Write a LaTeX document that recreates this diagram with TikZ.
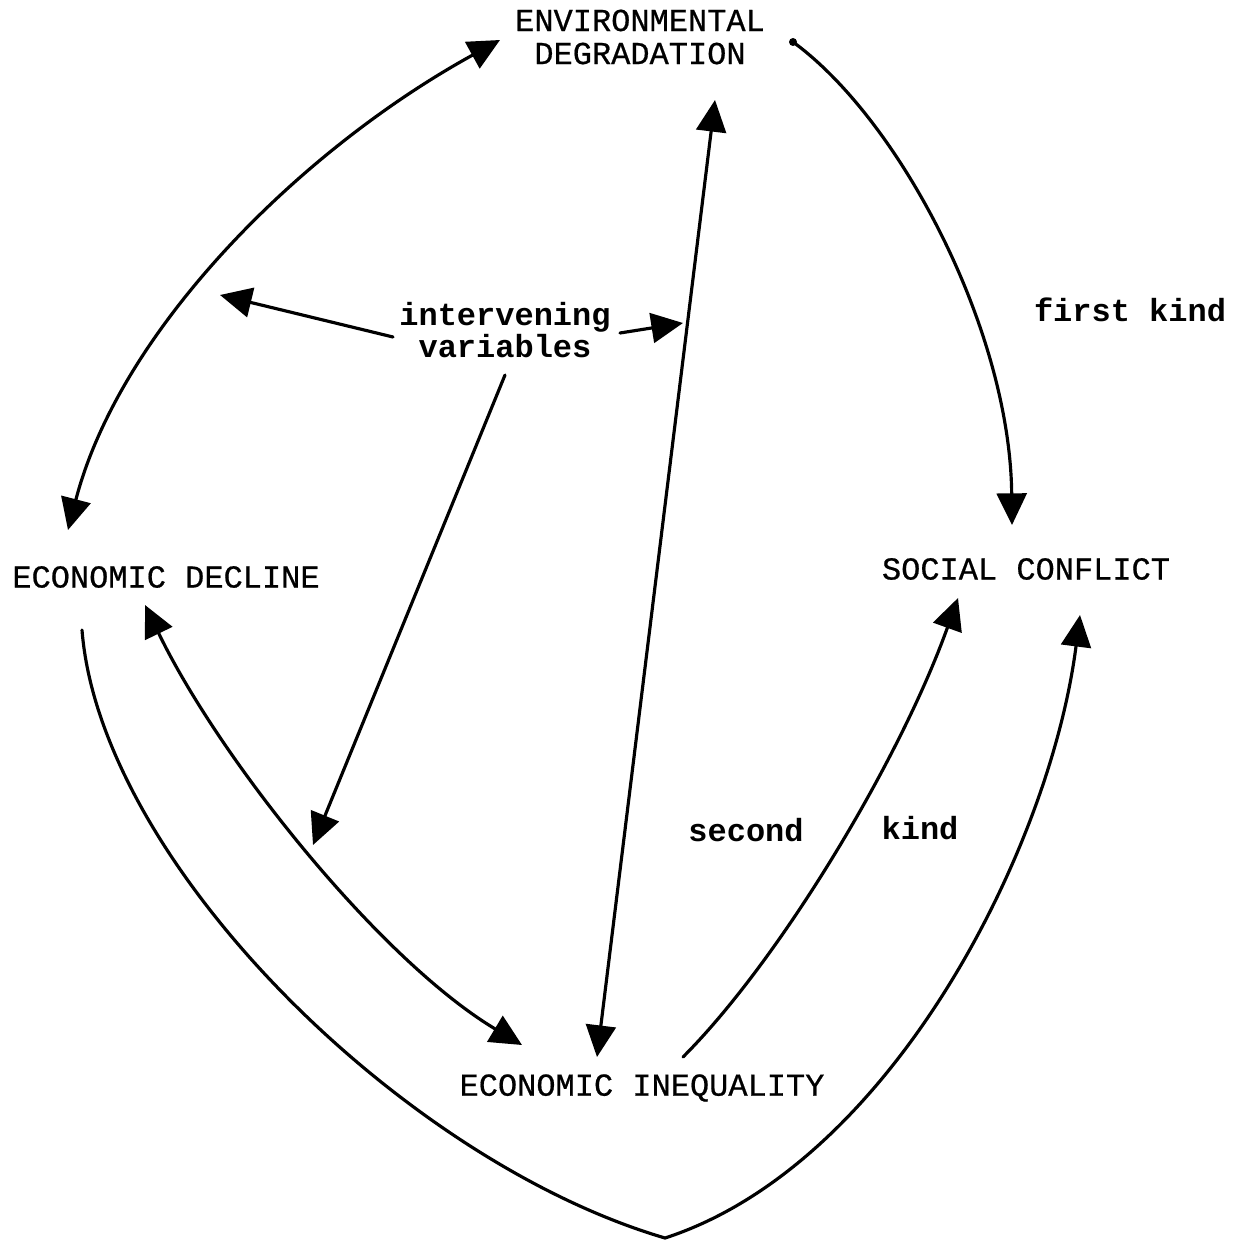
\documentclass[tikz,border=0pt]{standalone}
\usepackage{fontspec}
\setmainfont{Liberation Mono}
\newfontfamily\capsfont{Liberation Mono}[FakeBold=0.6]
\usetikzlibrary{arrows.meta}
\begin{document}
\begin{tikzpicture}[x=0.01cm,y=-0.01cm,
  lbl/.style={inner sep=0pt,align=center,font=\fontsize{9.1}{9.4}\selectfont\capsfont},
  lowlbl/.style={inner sep=0pt,align=center,font=\fontsize{9.1}{9.2}\selectfont\bfseries},
  conn/.style={line width=0.9pt,line cap=round,line join=round},
  tip/.style={-{Triangle[length=9pt,width=8.5pt]}},
  tips/.style={{Triangle[length=9pt,width=8.5pt]}-{Triangle[length=9pt,width=8.5pt]}}]
\useasboundingbox (0,0) rectangle (1235,1246);
% labels
\node[lbl] (env) at (640,37) {ENVIRONMENTAL\\DEGRADATION};
\node[lbl] (dec) at (166,577) {ECONOMIC DECLINE};
\node[lbl] (soc) at (1026,569) {SOCIAL CONFLICT};
\node[lbl] (ineq) at (642,1088) {ECONOMIC INEQUALITY};
\node[lowlbl] (iv) at (505,330) {intervening\\variables};
\node[lowlbl] (first) at (1130,310) {first kind};
\node[lowlbl] (second) at (746,830) {second};
\node[lowlbl] (kind) at (920,828) {kind};
% endpoints
\coordinate (envL) at (500,40);
\coordinate (decT) at (68,530);
\coordinate (envR) at (793,42);
\coordinate (socT) at (1012,525);
\coordinate (envB) at (715,100);
\coordinate (ineqT) at (597,1057);
\coordinate (ivL) at (393,337);
\coordinate (ivLt) at (220,295);
\coordinate (ivR) at (620,333);
\coordinate (ivRt) at (683,323);
\coordinate (ivD) at (505,375);
\coordinate (ivDt) at (313,845);
\coordinate (decB) at (145,605);
\coordinate (ineqL) at (522,1045);
\coordinate (decS) at (82,630);
\coordinate (apex) at (665,1238);
\coordinate (socB) at (1080,615);
\coordinate (ineqR) at (683,1057);
\coordinate (socBL) at (958,598);
% connectors
\draw[conn,tips] (decT) .. controls (120,330) and (300,150) .. (envL);
\draw[conn,tip] (envR) .. controls (900,120) and (1010,330) .. (socT);
\draw[conn,tips] (envB) -- (ineqT);
\draw[conn,tip] (ivL) -- (ivLt);
\draw[conn,tip] (ivR) -- (ivRt);
\draw[conn,tip] (ivD) -- (ivDt);
\draw[conn,tips] (decB) .. controls (220,760) and (380,960) .. (ineqL);
\draw[conn,tip] (decS) .. controls (100,860) and (400,1160) .. (apex)
  .. controls (890,1165) and (1050,850) .. (socB);
\draw[conn,tip] (ineqR) .. controls (780,960) and (900,760) .. (socBL);
\fill (envR) circle (4);
\end{tikzpicture}
\end{document}
